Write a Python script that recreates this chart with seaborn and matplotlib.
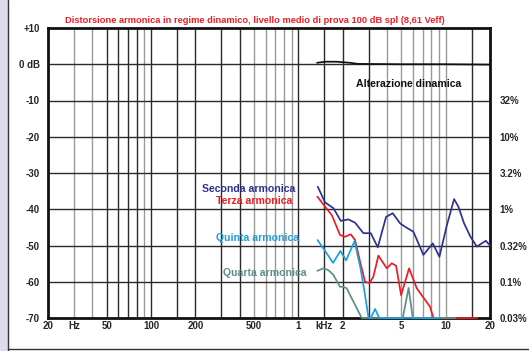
import matplotlib
matplotlib.use('Agg')
import matplotlib.pyplot as plt
from matplotlib.patches import Rectangle
from matplotlib.lines import Line2D
import pandas as pd
import seaborn as sns

# valori (frequenza in Hz, livello in dB)
seconda_freq = [1356, 1518, 1730, 1942, 2186, 2428, 2764, 3102, 3462, 3942, 4376, 4906, 5388,
                6040, 7064, 8180, 9068, 10180, 11410, 12210, 13340, 14660, 16270, 18730, 20000]
seconda_db = [-33.8, -38.1, -39.7, -43.2, -42.8, -43.7, -46.6, -46.6, -50.5, -42.1, -41.1, -43.9, -45.0,
              -46.2, -52.6, -49.4, -53.1, -44.5, -37.2, -39.3, -43.9, -47.4, -50.3, -48.7, -50.0]

terza_freq = [1347, 1519, 1687, 1920, 2076, 2270, 2428, 2626, 2838, 3036, 3232, 3496, 3986,
              4308, 4610, 4984, 5648, 6368, 7252, 7840, 8258, 16350]
terza_db = [-36.5, -39.3, -41.6, -47.1, -47.6, -46.9, -48.5, -54.5, -60.0, -60.4, -58.6, -52.8, -56.3,
            -54.9, -55.6, -63.7, -56.3, -61.8, -65.0, -66.9, -70.0, -70.0]

quinta_freq = [1351, 1519, 1721, 1930, 2110, 2408, 2640, 2838, 2998, 3100, 3320, 3540, 9160]
quinta_db = [-48.5, -51.5, -54.8, -51.5, -54.1, -48.8, -56.2, -63.7, -70.0, -70.0, -67.5, -70.0, -70.0]

quarta_freq = [1347, 1479, 1600, 1730, 1920, 2022, 2132, 2306, 2493, 2696, 5118, 5604, 5984, 11590]
quarta_db = [-57.0, -56.3, -56.8, -58.1, -61.4, -61.4, -61.8, -64.6, -67.3, -70.0, -70.0, -61.7, -70.0, -70.0]

alterazione_freq = [1340, 1519, 1824, 2244, 2544, 5000, 10000, 20000]
alterazione_db = [0.4, 0.7, 0.7, 0.4, 0.1, 0.0, 0.0, -0.1]

# etichette degli assi
x_ticks = [20, 30, 50, 100, 200, 500, 1000, 1500, 2000, 5000, 10000, 20000]
x_labels = ['20', 'Hz', '50', '100', '200', '500', '1', 'kHz', '2', '5', '10', '20']
y_ticks = [-70, -60, -50, -40, -30, -20, -10, 0, 10]
y_labels = ['-70', '-60', '-50', '-40', '-30', '-20', '-10', '0 dB', '+10']
perc_ticks = [-70, -60, -50, -40, -30, -20, -10]
perc_labels = ['0.03%', '0.1%', '0.32%', '1%', '3.2%', '10%', '32%']

# griglia verticale: frequenza e tono della linea
grid_freqs = [30, 40, 50, 60, 70, 80, 90, 100, 150, 200, 300, 400, 500, 600, 700, 800, 900,
              1000, 1500, 2000, 3000, 4000, 5000, 6000, 7000, 8000, 9000, 10000, 15000]
grid_dark = [0, 0, 1, 1, 1, 1, 0, 1, 1, 1, 1, 1, 0, 0, 0, 0, 0,
             1, 1, 1, 1, 0, 0, 0, 0, 0, 0, 0, 1]

sns.set_style('white')
plt.rcParams['font.family'] = ['Liberation Sans', 'DejaVu Sans']

fig = plt.figure(figsize=(5.29, 3.51), dpi=100)
ax = fig.add_axes([48 / 529, 1 - 318 / 351, 442 / 529, 290 / 351])

# cornice della pagina
fig.patches.append(Rectangle((0, 0), 7 / 529, 1, transform=fig.transFigure, color='#dcdcee', zorder=0))
fig.lines.append(Line2D([7.5 / 529, 7.5 / 529], [0, 1], transform=fig.transFigure, color='#333333', lw=1))
fig.lines.append(Line2D([7.5 / 529, 1], [2.5 / 351, 2.5 / 351], transform=fig.transFigure, color='#333333', lw=1))

for f, d in zip(grid_freqs, grid_dark):
    ax.axvline(f, color='#2a2a2a' if d else '#9a9a9a', lw=1.0, zorder=1)
for y in range(-60, 10, 10):
    ax.axhline(y, color='#2a2a2a', lw=1.0, zorder=1)

serie = [
    ('Seconda', seconda_freq, seconda_db, '#2e3192', 4),
    ('Terza', terza_freq, terza_db, '#ed1c24', 5),
    ('Quarta', quarta_freq, quarta_db, '#5b8f8c', 6),
    ('Quinta', quinta_freq, quinta_db, '#1e9fdc', 7),
    ('Alterazione', alterazione_freq, alterazione_db, '#111111', 4),
]
for nome, fr, db, col, z in serie:
    df = pd.DataFrame({'freq': fr, 'db': db})
    sns.lineplot(data=df, x='freq', y='db', color=col, lw=1.25, estimator=None, sort=False,
                 ax=ax, zorder=z, clip_on=False, legend=False)

ax.set_xscale('log')
ax.set_xlim(20, 20000)
ax.set_ylim(-70, 10)
ax.minorticks_off()
ax.set_xticks(x_ticks, x_labels)
ax.set_yticks(y_ticks, y_labels)
ax.set_xlabel('')
ax.set_ylabel('')
ax.tick_params(axis='x', length=0, pad=2, labelsize=7)
ax.tick_params(axis='y', length=0, pad=6, labelsize=7)
for lbl in ax.get_xticklabels() + ax.get_yticklabels():
    lbl.set_fontweight('bold')
for s in ax.spines.values():
    s.set_visible(True)
    s.set_color('#111111')
    s.set_linewidth(2)
    s.set_zorder(3)

ax2 = ax.twinx()
ax2.set_ylim(-70, 10)
ax2.set_yticks(perc_ticks, perc_labels)
ax2.tick_params(axis='y', length=0, pad=7, labelsize=7)
for lbl in ax2.get_yticklabels():
    lbl.set_fontweight('bold')
for s in ax2.spines.values():
    s.set_visible(False)

# testi
fig.text(255 / 529, 1 - 20.5 / 351,
         'Distorsione armonica in regime dinamico, livello medio di prova 100 dB spl (8,61 Veff)',
         color='#ed1c24', fontsize=6.7, fontweight='bold', ha='center', va='center')
ax.text(950, -34.4, 'Seconda armonica', color='#2e3192', fontsize=7.6, fontweight='bold', ha='right', va='center')
ax.text(916, -37.7, 'Terza armonica', color='#ed1c24', fontsize=7.6, fontweight='bold', ha='right', va='center')
ax.text(1012, -47.8, 'Quinta armonica', color='#1e9fdc', fontsize=7.6, fontweight='bold', ha='right', va='center')
ax.text(1146, -57.5, 'Quarta armonica', color='#5b8f8c', fontsize=7.6, fontweight='bold', ha='right', va='center')
ax.text(2466, -5.4, 'Alterazione dinamica', color='#111111', fontsize=7.6, fontweight='bold', ha='left', va='center')

fig.savefig('out.png', dpi=100)
